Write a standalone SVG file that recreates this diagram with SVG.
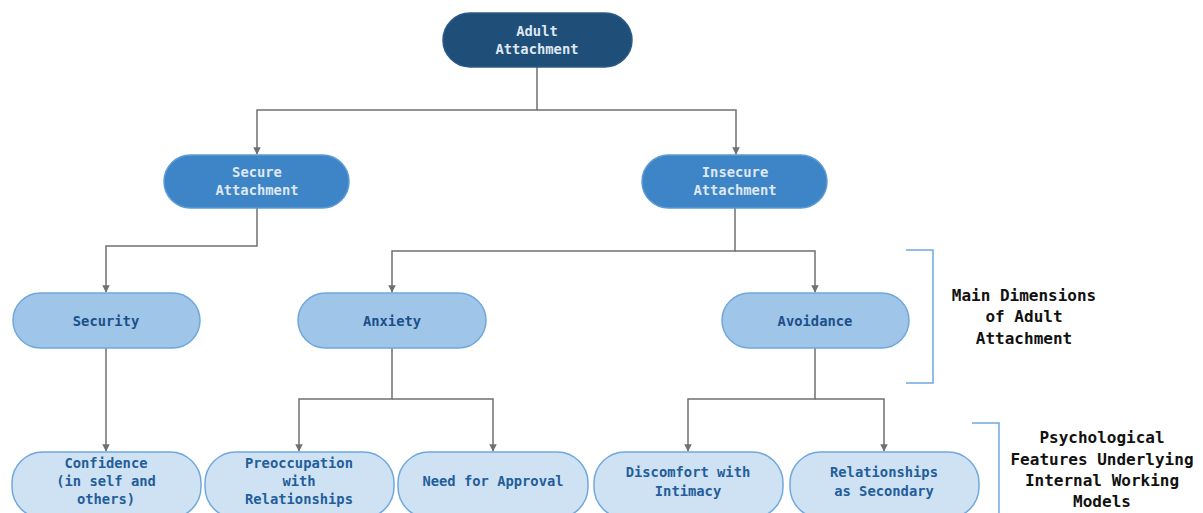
<svg xmlns="http://www.w3.org/2000/svg" width="1203" height="513" viewBox="0 0 1203 513">
<defs>
<marker id="arr" viewBox="0 0 10 10" refX="9" refY="5" markerWidth="5" markerHeight="5" orient="auto" markerUnits="strokeWidth">
<path d="M0,0 L10,5 L0,10 z" fill="#707070"/>
</marker>
<style>
.t{font-family:"DejaVu Sans Mono","Liberation Mono",monospace;font-size:13.8px;font-weight:bold;text-anchor:middle;dominant-baseline:central}
.l0{fill:#1f4e79;stroke:#2b5a88;stroke-width:1.5}
.w{fill:#dfe8f2}
.l1{fill:#3d85c6;stroke:#5b9bd5;stroke-width:1.5}
.l2{fill:#9fc5e8;stroke:#6fa8dc;stroke-width:1.5}
.l3{fill:#cfe2f3;stroke:#6fa8dc;stroke-width:1.5}
.d{fill:#1c4f8a}
.e{fill:#235d9a}
.c{fill:none;stroke:#707070;stroke-width:1.5}
.b{fill:none;stroke:#6fa8dc;stroke-width:1.5}
.lab{font-family:"DejaVu Sans Mono","Liberation Mono",monospace;font-size:16px;font-weight:bold;fill:#111;text-anchor:middle;dominant-baseline:central}
</style>
</defs>
<g id="connectors">
<path class="c" d="M537,67 V110 H257 V154" marker-end="url(#arr)"/>
<path class="c" d="M537,110 H736 V154" marker-end="url(#arr)"/>
<path class="c" d="M257,208 V246 H106 V292" marker-end="url(#arr)"/>
<path class="c" d="M735,208 V251 H392 V292" marker-end="url(#arr)"/>
<path class="c" d="M735,251 H815 V292" marker-end="url(#arr)"/>
<path class="c" d="M106,348 V451" marker-end="url(#arr)"/>
<path class="c" d="M392,348 V399 H299 V451" marker-end="url(#arr)"/>
<path class="c" d="M392,399 H493 V451" marker-end="url(#arr)"/>
<path class="c" d="M815,348 V399 H688 V451" marker-end="url(#arr)"/>
<path class="c" d="M815,399 H884 V451" marker-end="url(#arr)"/>
</g>
<g id="brackets">
<path class="b" d="M906,250 H933 V383 H906"/>
<path class="b" d="M972,423 H999 V520"/>
</g>
<g id="n-adult"><rect class="l0" x="443" y="13" width="189" height="54" rx="27"/><text class="t w"><tspan x="537" y="31">Adult</tspan><tspan x="537" y="49">Attachment</tspan></text></g>
<g id="n-secure"><rect class="l1" x="164" y="155" width="185" height="53" rx="26.5"/><text class="t w"><tspan x="257" y="172">Secure</tspan><tspan x="257" y="190">Attachment</tspan></text></g>
<g id="n-insecure"><rect class="l1" x="642" y="155" width="185" height="53" rx="26.5"/><text class="t w"><tspan x="735" y="172">Insecure</tspan><tspan x="735" y="190">Attachment</tspan></text></g>
<g id="n-security"><rect class="l2" x="13" y="293" width="187" height="55" rx="27.5"/><text class="t d" x="106" y="321">Security</text></g>
<g id="n-anxiety"><rect class="l2" x="298" y="293" width="188" height="55" rx="27.5"/><text class="t d" x="392" y="321">Anxiety</text></g>
<g id="n-avoidance"><rect class="l2" x="722" y="293" width="187" height="55" rx="27.5"/><text class="t d" x="815" y="321">Avoidance</text></g>
<g id="n-confidence"><rect class="l3" x="12" y="452" width="189" height="66" rx="31"/><text class="t e"><tspan x="106" y="463">Confidence</tspan><tspan x="106" y="481">(in self and</tspan><tspan x="106" y="499">others)</tspan></text></g>
<g id="n-preoccupation"><rect class="l3" x="205" y="452" width="189" height="66" rx="31"/><text class="t e"><tspan x="299" y="463">Preoccupation</tspan><tspan x="299" y="481">with</tspan><tspan x="299" y="499">Relationships</tspan></text></g>
<g id="n-approval"><rect class="l3" x="398" y="452" width="190" height="66" rx="31"/><text class="t e" x="493" y="481">Need for Approval</text></g>
<g id="n-discomfort"><rect class="l3" x="594" y="452" width="189" height="66" rx="31"/><text class="t e"><tspan x="688" y="472">Discomfort with</tspan><tspan x="688" y="491">Intimacy</tspan></text></g>
<g id="n-secondary"><rect class="l3" x="790" y="452" width="189" height="66" rx="31"/><text class="t e"><tspan x="884" y="472">Relationships</tspan><tspan x="884" y="491">as Secondary</tspan></text></g>
<g id="label-main"><text class="lab"><tspan x="1024" y="295">Main Dimensions</tspan><tspan x="1024" y="316">of Adult</tspan><tspan x="1024" y="338">Attachment</tspan></text></g>
<g id="label-psych"><text class="lab"><tspan x="1102" y="437">Psychological</tspan><tspan x="1102" y="459">Features Underlying</tspan><tspan x="1102" y="480">Internal Working</tspan><tspan x="1102" y="501">Models</tspan></text></g>
</svg>
